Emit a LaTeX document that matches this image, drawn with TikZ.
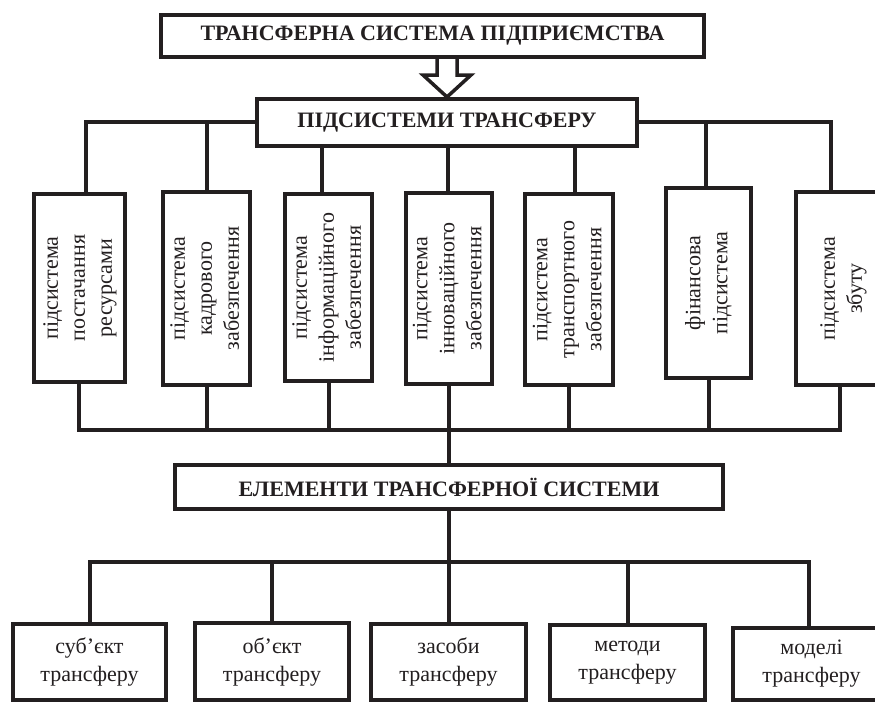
\documentclass[tikz,border=0pt]{standalone}
\usepackage{fontspec}
\setmainfont{Liberation Serif}
\usepackage{graphicx}
\usetikzlibrary{calc}
\definecolor{ink}{HTML}{231F20}
\newcommand{\vtext}[1]{\rotatebox{90}{\begin{tabular}{@{}c@{}}#1\end{tabular}}}
\begin{document}
\begin{tikzpicture}[x=1pt,y=-1pt,
  box/.style={draw=ink, line width=4pt, rectangle, inner sep=0pt, text=ink, fill=white, line join=miter},
  headbox/.style={box, font=\fontsize{22}{26}\selectfont\bfseries},
  vbox/.style={box, font=\fontsize{22}{27}\selectfont},
  ebox/.style={box, font=\fontsize{22}{28}\selectfont, align=center},
  conn/.style={draw=ink, line width=4pt, line join=miter},
  arrowshape/.style={draw=ink, line width=3.5pt, fill=white, line join=miter}
]
\useasboundingbox (0,0) rectangle (875,702);
\clip (0,0) rectangle (875,702);

% headers
\node[headbox, minimum width=543, minimum height=42] (top) at (432.5,36) {ТРАНСФЕРНА СИСТЕМА ПІДПРИЄМСТВА};
\node[headbox, minimum width=380, minimum height=47] (sub) at (447,122.5) {ПІДСИСТЕМИ ТРАНСФЕРУ};
\node[headbox, minimum width=548, minimum height=44] (elem) at (449,487) {ЕЛЕМЕНТИ ТРАНСФЕРНОЇ СИСТЕМИ};

% subsystem boxes
\node[vbox, minimum width=91, minimum height=188] (b1) at (79.5,288) {\vtext{підсистема\\постачання\\ресурсами}};
\node[vbox, minimum width=87, minimum height=193] (b2) at (206.5,288.5) {\vtext{підсистема\\кадрового\\забезпечення}};
\node[vbox, minimum width=87, minimum height=187] (b3) at (328.5,287.5) {\vtext{підсистема\\інформаційного\\забезпечення}};
\node[vbox, minimum width=86, minimum height=191] (b4) at (449,288.5) {\vtext{підсистема\\інноваційного\\забезпечення}};
\node[vbox, minimum width=88, minimum height=191] (b5) at (569,289.5) {\vtext{підсистема\\транспортного\\забезпечення}};
\node[vbox, minimum width=85, minimum height=190] (b6) at (708.5,283) {\vtext{фінансова\\підсистема}};
\node[vbox, minimum width=94, minimum height=193] (b7) at (843,288.5) {\vtext{підсистема\\збуту}};

% element boxes
\node[ebox, minimum width=153, minimum height=76] (e1) at (89.5,662) {суб’єкт\\трансферу};
\node[ebox, minimum width=154, minimum height=77] (e2) at (272,661.5) {об’єкт\\трансферу};
\node[ebox, minimum width=155, minimum height=76] (e3) at (448.5,662) {засоби\\трансферу};
\node[ebox, minimum width=155, minimum height=75] (e4) at (627.5,662.5) {методи\\трансферу};
\node[ebox, minimum width=157, minimum height=72] (e5) at (811.5,664) {моделі\\трансферу};

% hollow arrow
\coordinate (at) at (top.south -| sub.north);
\draw[arrowshape] ($(at)+(-10,0)$) -- ($(at)+(-10,16)$) -- ($(at)+(-24,16)$) -- (sub.north) -- ($(at)+(24,16)$) -- ($(at)+(10,16)$) -- ($(at)+(10,0)$);

% upper distribution
\coordinate (hl) at (86,122);
\coordinate (hr) at (831,122);
\draw[conn] (b1.north -| hl) -- (hl) -- (sub.west |- hl);
\draw[conn] (sub.east |- hr) -- (hr) -- (b7.north -| hr);
\draw[conn] (b2.north) -- (b2.north |- hl);
\draw[conn] ($(b3.north)+(-6.5,0)$) -- ($(b3.north |- sub.south)+(-6.5,0)$);
\draw[conn] ($(b4.north)+(-1,0)$) -- ($(b4.north |- sub.south)+(-1,0)$);
\draw[conn] ($(b5.north)+(6,0)$) -- ($(b5.north |- sub.south)+(6,0)$);
\draw[conn] ($(b6.north)+(-2.5,0)$) -- ($(b6.north |- hr)+(-2.5,0)$);

% lower collection
\coordinate (bl) at (79,430);
\coordinate (br) at (840,430);
\draw[conn] (b1.south -| bl) -- (bl) -- (br) -- (b7.south -| br);
\draw[conn] (b2.south) -- (b2.south |- bl);
\draw[conn] (b3.south) -- (b3.south |- bl);
\draw[conn] (b5.south) -- (b5.south |- bl);
\draw[conn] (b6.south) -- (b6.south |- bl);
\draw[conn] (b4.south) -- (elem.north);

% elements distribution
\coordinate (ml) at (90,562);
\coordinate (mr) at (809,562);
\draw[conn] (elem.south) -- (elem.south |- ml);
\draw[conn] (e1.north -| ml) -- (ml) -- (mr) -- (e5.north -| mr);
\draw[conn] (e2.north) -- (e2.north |- ml);
\draw[conn] (e3.north) -- (e3.north |- ml);
\draw[conn] (e4.north) -- (e4.north |- ml);
\end{tikzpicture}
\end{document}
